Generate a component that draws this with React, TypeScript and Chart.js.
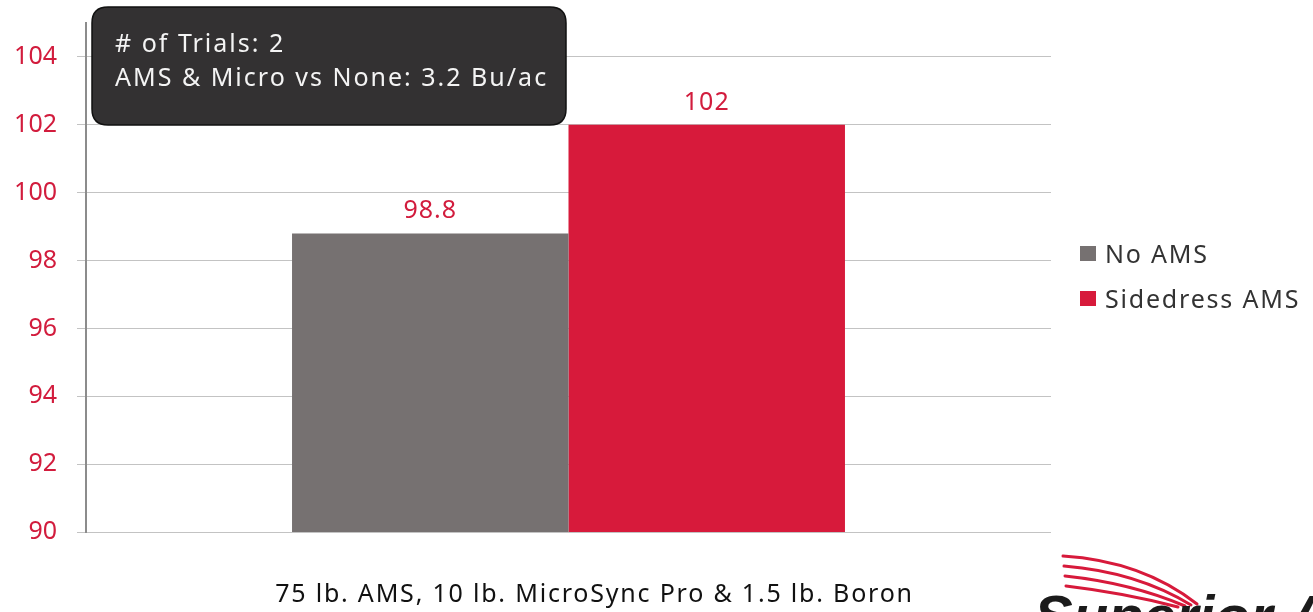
import React, { useEffect, useRef } from "react";
import { Chart, registerables } from "chart.js";

Chart.register(...registerables);

// ---------- data ----------
const categories = ["75 lb. AMS, 10 lb. MicroSync Pro & 1.5 lb. Boron"];
const seriesNames = ["No AMS", "Sidedress AMS"];
const noAmsValues = [98.8];
const sidedressValues = [102];
const yTickValues = [90, 92, 94, 96, 98, 100, 102, 104];
const annotationLines = ["# of Trials: 2", "AMS & Micro vs None: 3.2 Bu/ac"];
const logoText = "Superior Ag";

// ---------- styles ----------
const FAMILY = "'Noto Sans', sans-serif";
const GRAY = "#767171";
const RED = "#d71a3b";
const TICK_RED = "#d21c3d";
const TEXT_SPACING = "1.8px";
const W = 1313;
const H = 612;

const spacingPlugin = {
  id: "letterSpacing",
  beforeDraw(chart: any) {
    const ctx = chart.ctx;
    ctx.letterSpacing = "0px";
    const xs = chart.scales.x;
    if (xs && !xs.__spaced) {
      const orig = xs.drawLabels.bind(xs);
      xs.drawLabels = (area: any) => {
        ctx.save();
        ctx.letterSpacing = TEXT_SPACING;
        orig(area);
        ctx.restore();
      };
      xs.__spaced = true;
    }
  },
};

const dataLabelPlugin = {
  id: "dataLabels",
  afterDatasetsDraw(chart: any) {
    const ctx = chart.ctx;
    ctx.save();
    ctx.letterSpacing = "1px";
    ctx.font = `25px ${FAMILY}`;
    ctx.fillStyle = TICK_RED;
    ctx.textAlign = "center";
    ctx.textBaseline = "alphabetic";
    chart.data.datasets.forEach((ds: any, i: number) => {
      const meta = chart.getDatasetMeta(i);
      meta.data.forEach((bar: any, j: number) => {
        ctx.fillText(String(ds.data[j]), bar.x, bar.y - 15);
      });
    });
    ctx.restore();
  },
};

const legendPlugin = {
  id: "customLegend",
  afterDraw(chart: any) {
    const ctx = chart.ctx;
    const x = chart.chartArea.right + 29;
    const yMid = (chart.chartArea.top + chart.chartArea.bottom) / 2;
    const n = chart.data.datasets.length;
    const gap = 45;
    ctx.save();
    ctx.letterSpacing = TEXT_SPACING;
    ctx.font = `25px ${FAMILY}`;
    ctx.textAlign = "left";
    ctx.textBaseline = "alphabetic";
    chart.data.datasets.forEach((ds: any, i: number) => {
      const cy = yMid - ((n - 1) * gap) / 2 + i * gap - 1.5;
      ctx.fillStyle = ds.backgroundColor;
      ctx.fillRect(x, cy - 7.5, 16, 15);
      ctx.fillStyle = "#333333";
      ctx.fillText(ds.label, x + 25, cy + 9);
    });
    ctx.restore();
  },
};

const annotationPlugin = {
  id: "annotationBox",
  afterDraw(chart: any) {
    const ctx = chart.ctx;
    const x0 = chart.chartArea.left + 6;
    const y0 = 7;
    const w = 474;
    const h = 118;
    const r = 16;
    ctx.save();
    ctx.beginPath();
    ctx.moveTo(x0 + r, y0);
    ctx.lineTo(x0 + w - r, y0);
    ctx.quadraticCurveTo(x0 + w, y0, x0 + w, y0 + r);
    ctx.lineTo(x0 + w, y0 + h - r);
    ctx.quadraticCurveTo(x0 + w, y0 + h, x0 + w - r, y0 + h);
    ctx.lineTo(x0 + r, y0 + h);
    ctx.quadraticCurveTo(x0, y0 + h, x0, y0 + h - r);
    ctx.lineTo(x0, y0 + r);
    ctx.quadraticCurveTo(x0, y0, x0 + r, y0);
    ctx.closePath();
    ctx.fillStyle = "#333132";
    ctx.fill();
    ctx.lineWidth = 1.5;
    ctx.strokeStyle = "#111111";
    ctx.stroke();
    ctx.letterSpacing = "2px";
    ctx.font = `25px ${FAMILY}`;
    ctx.fillStyle = "#f4f4f4";
    ctx.textAlign = "left";
    ctx.textBaseline = "alphabetic";
    annotationLines.forEach((line, i) => {
      ctx.fillText(line, x0 + 23, y0 + 45 + i * 34);
    });
    ctx.restore();
  },
};

const logoPlugin = {
  id: "logo",
  afterDraw(chart: any) {
    const ctx = chart.ctx;
    ctx.save();
    ctx.letterSpacing = "0px";
    ctx.strokeStyle = RED;
    ctx.lineCap = "round";
    const swooshes = [
      [1063, 556, 1142, 561, 1197, 604],
      [1064, 566, 1137, 572, 1191, 605],
      [1065, 576, 1131, 583, 1185, 606],
      [1066, 586, 1125, 593, 1178, 607],
    ];
    swooshes.forEach((s) => {
      ctx.lineWidth = 3;
      ctx.beginPath();
      ctx.moveTo(s[0], s[1]);
      ctx.quadraticCurveTo(s[2], s[3], s[4], s[5]);
      ctx.stroke();
    });
    ctx.font = `italic bold 58px 'Liberation Sans', sans-serif`;
    ctx.fillStyle = "#1b1b1b";
    ctx.textAlign = "left";
    ctx.textBaseline = "alphabetic";
    ctx.fillText(logoText, 1034, 636);
    ctx.restore();
  },
};

export default function App() {
  const canvasRef = useRef<HTMLCanvasElement | null>(null);

  useEffect(() => {
    const canvas = canvasRef.current;
    if (!canvas) return;

    const chart = new Chart(canvas, {
      type: "bar",
      data: {
        labels: categories,
        datasets: [
          {
            label: seriesNames[0],
            data: noAmsValues,
            backgroundColor: GRAY,
            borderWidth: 0,
            categoryPercentage: 0.573,
            barPercentage: 1,
          },
          {
            label: seriesNames[1],
            data: sidedressValues,
            backgroundColor: RED,
            borderWidth: 0,
            categoryPercentage: 0.573,
            barPercentage: 1,
          },
        ],
      },
      options: {
        responsive: false,
        animation: false,
        layout: { padding: { left: 0, top: 23, right: W - 1051, bottom: 0 } },
        plugins: {
          legend: { display: false },
          tooltip: { enabled: false },
        },
        scales: {
          x: {
            type: "category",
            grid: { display: false, drawTicks: false },
            border: { display: false },
            ticks: {
              color: "#111111",
              padding: 48,
              labelOffset: 26,
              font: { family: FAMILY, size: 25 },
              maxRotation: 0,
            },
            afterFit: (s: any) => {
              s.height = 80;
              s.paddingLeft = 0;
              s.paddingRight = 0;
            },
          },
          y: {
            type: "linear",
            min: 90,
            max: 105,
            grid: { color: "#c3c3c3", lineWidth: 1, tickLength: 9, tickColor: "#c3c3c3" },
            border: { display: true, color: "#8c8c8c", width: 2 },
            ticks: {
              stepSize: 2,
              includeBounds: false,
              color: TICK_RED,
              padding: 20,
              font: { family: FAMILY, size: 25 },
            },
            afterBuildTicks: (axis: any) => {
              axis.ticks = yTickValues.map((v) => ({ value: v }));
            },
            afterFit: (s: any) => {
              s.width = 86;
              s.paddingTop = 0;
              s.paddingBottom = 0;
            },
          },
        },
      } as any,
      plugins: [spacingPlugin, dataLabelPlugin, legendPlugin, annotationPlugin, logoPlugin],
    });

    return () => {
      chart.destroy();
    };
  }, []);

  return (
    <div style={{ position: "absolute", left: 0, top: 0, width: W, height: H, background: "#ffffff" }}>
      <canvas ref={canvasRef} width={W} height={H} style={{ display: "block" }} />
    </div>
  );
}
